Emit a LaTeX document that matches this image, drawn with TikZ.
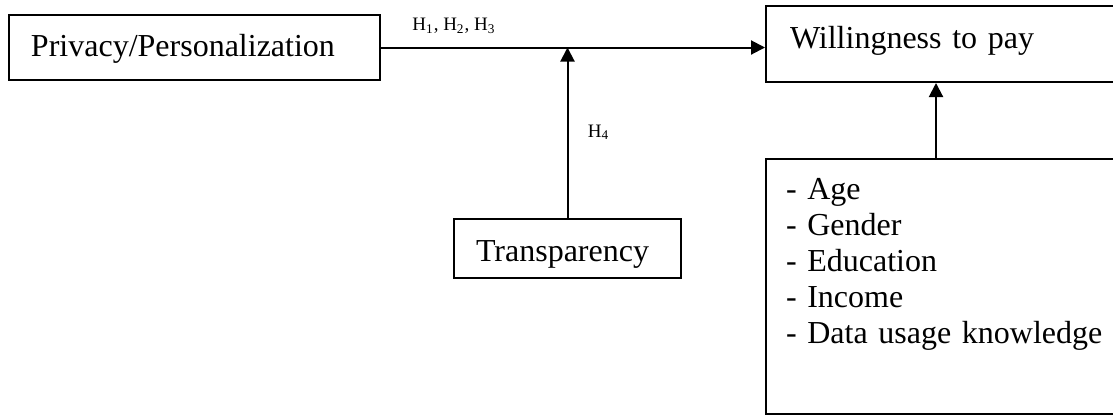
\documentclass[tikz,border=0pt]{standalone}
\usepackage{fontspec}
\setmainfont{Liberation Serif}
\usetikzlibrary{arrows.meta}

\begin{document}
\begin{tikzpicture}[
            x=0.5pt, y=-0.5pt,
            box/.style={draw, line width=1pt, rectangle, anchor=north west, align=left, inner ysep=0pt, font=\fontsize{16}{18}\selectfont},
            hlabel/.style={inner sep=0pt, font=\fontsize{9.5}{11}\selectfont},
            arrow/.style={-{Triangle[length=7pt,width=7pt]}, line width=1pt}
            ]
            \clip (0,0) rectangle (1113,414);

            % Nodes with manual coordinates
            \node[box, inner xsep=11pt, text width=163.5pt, text height=20.5pt, text depth=12pt] (priv) at (8,14) {Privacy/Personalization};
            \node[box, inner xsep=12pt, text width=200pt, text height=21pt, text depth=17pt] (will) at (765,5) {Willingness to pay};
            \node[box, inner xsep=11pt, text width=91.5pt, text height=21pt, text depth=8.5pt] (trans) at (453,218) {Transparency};
            \node[box, inner xsep=10pt, text width=204pt, text height=20pt, text depth=107.5pt] (demo) at (765,158) {- Age\\- Gender\\- Education\\- Income\\- Data usage knowledge};

            % Arrows
            \draw[arrow] (priv.east) -- (priv.east -| will.west);
            \draw[arrow] (trans.north) -- (trans.north |- priv.east);
            \draw[arrow] ([xshift=85.5pt]demo.north west) -- ([xshift=85.5pt]will.south west);

            % Hypothesis labels
            \node[hlabel, anchor=base west] (h123) at ([xshift=15.5pt, yshift=8.5pt]priv.east) {H\textsubscript{1}, H\textsubscript{2}, H\textsubscript{3}};
            \node[hlabel, anchor=base west] (h4) at ([xshift=10pt, yshift=40.5pt]trans.north) {H\textsubscript{4}};
        \end{tikzpicture}
\end{document}
